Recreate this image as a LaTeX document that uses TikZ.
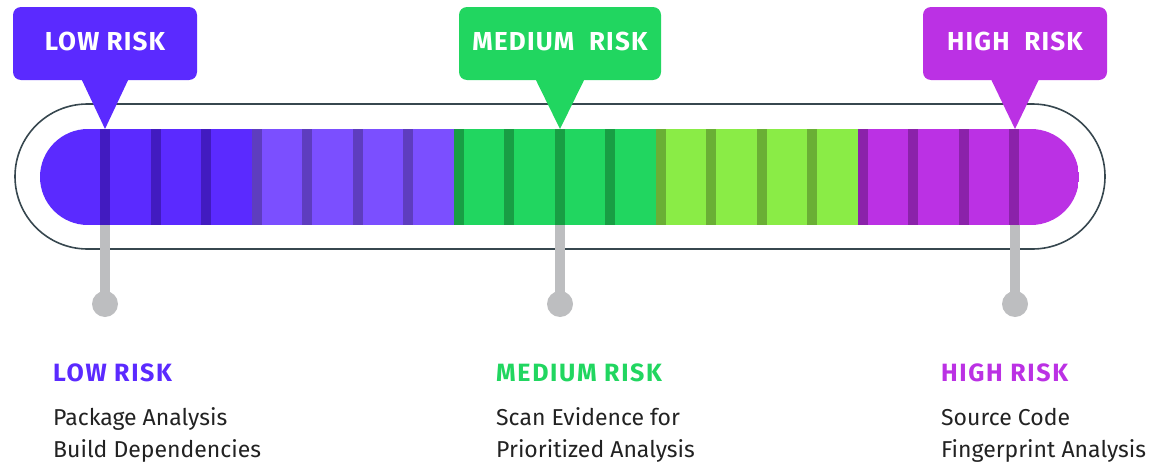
\documentclass[tikz,border=0pt]{standalone}
\usepackage{fontspec}
\setmainfont{Fira Sans}
\usetikzlibrary{positioning}

\definecolor{lowrisk}{HTML}{5B2AFF}
\definecolor{lowdark}{HTML}{421BC0}
\definecolor{lowlight}{HTML}{7B4FFF}
\definecolor{lowlightdark}{HTML}{5E3DBF}
\definecolor{medrisk}{HTML}{21D660}
\definecolor{meddark}{HTML}{189E44}
\definecolor{medlight}{HTML}{8AEC46}
\definecolor{medlightdark}{HTML}{6AAF35}
\definecolor{highrisk}{HTML}{BB31E4}
\definecolor{highdark}{HTML}{8B22AA}
\definecolor{stemgray}{HTML}{BDBEC0}
\definecolor{rimgray}{HTML}{37474F}
\definecolor{bodytext}{HTML}{222222}

\tikzset{
  callout/.style={fill=#1, rounded corners=8pt, minimum height=73pt, text depth=5pt,
    text=white, font=\bfseries\fontsize{26}{26}\selectfont\addfontfeatures{LetterSpace=4.5}},
  stem/.style={draw=stemgray, line width=10pt},
  dot/.style={circle, fill=stemgray, minimum size=26pt, inner sep=0pt},
  heading/.style={anchor=base west, inner sep=0pt, text=#1,
    font=\bfseries\fontsize{25}{25}\selectfont\addfontfeatures{LetterSpace=6.5}},
  body/.style={anchor=base west, inner sep=0pt, text=bodytext,
    font=\fontsize{23}{23}\selectfont}
}

\begin{document}
\begin{tikzpicture}[x=1pt, y=-1pt]
    \useasboundingbox (0,0) rectangle (1168,463);

    % outer rim
    \draw[rimgray, line width=1.6pt, rounded corners=72.5pt] (15,104) rectangle (1105,249);

    % striped bar
    \begin{scope}
        \clip[rounded corners=48pt] (40,129) rectangle (1079,225);
        \foreach \from/\to/\base/\dark/\ks in {
            40/251.5/lowrisk/lowdark/{0,1,2},
            251.5/453.5/lowlight/lowlightdark/{3,4,5,6},
            453.5/655.5/medrisk/meddark/{7,8,9,10},
            655.5/857.5/medlight/medlightdark/{11,12,13,14},
            857.5/1079/highrisk/highdark/{15,16,17,18}} {
            \fill[\base] (\from,129) rectangle (\to,225);
            \foreach \k in \ks
                \fill[\dark] ({100+50.5*\k},129) rectangle ({110+50.5*\k},225);
        }
    \end{scope}

    % marks on the bar
    \coordinate (lowmark) at (105,129);
    \coordinate (medmark) at (560,129);
    \coordinate (highmark) at (1015,129);
    \coordinate (lowfoot) at (105,225);
    \coordinate (medfoot) at (560,225);
    \coordinate (highfoot) at (1015,225);

    % callouts
    \node[callout=lowrisk, minimum width=184pt] (low) at (105,43.5) {LOW RISK};
    \node[callout=medrisk, minimum width=202pt] (med) at (560,43.5) {MEDIUM\ \ RISK};
    \node[callout=highrisk, minimum width=184pt] (high) at (1015,43.5) {HIGH\ \ RISK};
    \fill[lowrisk] ([xshift=-23.5pt, yshift=1pt]low.south) -- (lowmark) -- ([xshift=23.5pt, yshift=1pt]low.south) -- cycle;
    \fill[medrisk] ([xshift=-24.5pt, yshift=1pt]med.south) -- (medmark) -- ([xshift=24.5pt, yshift=1pt]med.south) -- cycle;
    \fill[highrisk] ([xshift=-24pt, yshift=1pt]high.south) -- (highmark) -- ([xshift=24pt, yshift=1pt]high.south) -- cycle;

    % stems
    \node[dot] (lowdot) at (105,304) {};
    \node[dot] (meddot) at (560,304) {};
    \node[dot] (highdot) at (1015,304) {};
    \draw[stem] (lowfoot) -- (lowdot.center);
    \draw[stem] (medfoot) -- (meddot.center);
    \draw[stem] (highfoot) -- (highdot.center);

    % legend
    \node[heading=lowrisk] (lowhead) at (53,381) {LOW RISK};
    \node[body] (lowa) at (53,425) {Package Analysis};
    \node[body] (lowb) at (53,457) {Build Dependencies};

    \node[heading=medrisk] (medhead) at (496,381) {MEDIUM RISK};
    \node[body] (meda) at (496,425) {Scan Evidence for};
    \node[body] (medb) at (496,457) {Prioritized Analysis};

    \node[heading=highrisk] (highhead) at (941,381) {HIGH RISK};
    \node[body] (higha) at (941,425) {Source Code};
    \node[body] (highb) at (941,457) {Fingerprint Analysis};
\end{tikzpicture}
\end{document}
